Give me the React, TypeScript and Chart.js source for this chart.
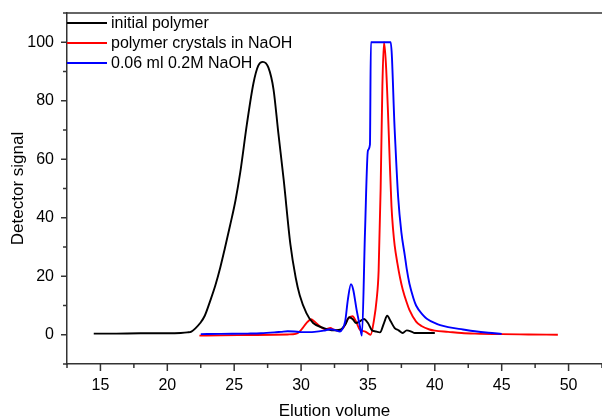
import React, { useEffect, useRef } from "react";
import { Chart, registerables } from "chart.js";

Chart.register(...registerables);

// ---- data ----
const seriesLabels = ["initial polymer", "polymer crystals in NaOH", "0.06 ml 0.2M NaOH"];
const seriesColors = ["#000000", "#ff0000", "#0000ff"];

const initialX = [14.5, 16, 18, 20, 21, 21.5, 21.8, 22.1, 22.46, 22.8, 23.2, 23.6, 23.96, 24.3, 24.7, 25.1, 25.45, 25.95, 26.44, 26.8, 27.14, 27.56, 27.94, 28.3, 28.7, 29.2, 29.6, 29.9, 30.4, 30.9, 31.7, 32.4, 32.9, 33.3, 33.6, 33.85, 34.1, 34.4, 34.7, 35.0, 35.27, 35.6, 35.9, 36.2, 36.44, 36.7, 37.0, 37.3, 37.6, 37.9, 38.25, 38.5, 39.0, 40.0];
const initialY = [0.4, 0.4, 0.5, 0.5, 0.6, 0.8, 1.1, 2.2, 4, 6.5, 11.5, 17, 23, 29.5, 37.5, 46, 55.4, 72, 86, 92, 93.3, 91.3, 83.9, 69, 53, 31, 19.5, 13.5, 7.4, 4, 2.3, 1.5, 1.7, 3.4, 6.0, 5.4, 4, 4.6, 5.4, 4, 1.7, 1.1, 0.8, 4, 6.5, 4.6, 2.3, 1.5, 0.6, 1.5, 1.1, 0.6, 0.6, 0.6];

const crystalsX = [22.4, 24, 26, 28, 29, 29.6, 29.9, 30.1, 30.4, 30.75, 31.0, 31.4, 31.8, 32.2, 32.4, 32.8, 33.15, 33.5, 33.85, 34.1, 34.4, 34.8, 35.2, 35.45, 35.65, 35.8, 35.95, 36.08, 36.2, 36.34, 36.5, 36.64, 36.76, 36.88, 37.0, 37.2, 37.4, 37.6, 37.9, 38.1, 38.6, 39.0, 39.6, 40.0, 41, 42, 43, 45, 47, 49.2];
const crystalsY = [-0.3, -0.2, -0.1, 0, 0.1, 0.3, 1.1, 2.2, 4, 5.3, 4.5, 2.9, 1.9, 2.3, 1.8, 1.4, 2.3, 5.4, 6.3, 4.6, 1.7, 1.1, 0, 5, 12, 22, 50, 85, 100, 93, 76, 58, 44, 36, 30.5, 24.5, 19.5, 15.5, 11, 8.5, 4.5, 3, 1.8, 1.4, 1.0, 0.6, 0.4, 0.2, 0.1, 0];

const naohX = [22.5, 24, 26, 27, 28, 28.5, 29, 29.5, 30, 31, 31.7, 32.2, 32.6, 32.9, 33.1, 33.3, 33.5, 33.73, 33.9, 34.15, 34.4, 34.55, 34.78, 35.0, 35.15, 35.22, 36.7, 37.0, 37.26, 37.5, 37.76, 37.9, 38.1, 38.4, 38.6, 39.1, 39.4, 40.1, 40.4, 41, 42.1, 43, 44, 45];
const naohY = [0.2, 0.3, 0.4, 0.5, 0.8, 1.0, 1.2, 1.1, 0.9, 1.0, 1.4, 1.9, 1.5, 1.1, 2.0, 4.6, 12, 17.3, 15.4, 8.6, 2.9, -0.3, 35, 63, 65, 100, 100, 70, 47, 35, 27, 22.5, 17.5, 12.5, 10, 6.8, 5.5, 3.8, 3.3, 2.6, 1.8, 1.2, 0.7, 0.3];

const xTitle = "Elution volume";
const yTitle = "Detector signal";
const xMin = 12.5;
const xMax = 52.5;
const xStep = 2.5;
const xLabelTicks = [15, 20, 25, 30, 35, 40, 45, 50];
const yMin = -10;
const yMax = 110;
const yStep = 10;
const yLabelTicks = [0, 20, 40, 60, 80, 100];

const FONT = "'Liberation Sans', Arial, Helvetica, sans-serif";
const AXIS_COLOR = "#333333";

const toPoints = (xs: number[], ys: number[]) => xs.map((x, i) => ({ x, y: ys[i] }));

const framePlugin = {
  id: "frameTicksLegend",
  afterDraw(chart: any) {
    const { ctx, chartArea: a, scales } = chart;
    ctx.save();
    ctx.strokeStyle = AXIS_COLOR;
    ctx.lineWidth = 1.5;
    // top frame line
    ctx.beginPath();
    ctx.moveTo(a.left, a.top);
    ctx.lineTo(a.right + 2, a.top);
    ctx.stroke();
    // y ticks
    const ys = scales.y;
    ys.ticks.forEach((t: any) => {
      const p = ys.getPixelForValue(t.value);
      const len = yLabelTicks.includes(t.value) ? 6 : 4;
      ctx.beginPath();
      ctx.moveTo(a.left - len, p);
      ctx.lineTo(a.left, p);
      ctx.stroke();
    });
    // x ticks
    const xs = scales.x;
    xs.ticks.forEach((t: any) => {
      const p = xs.getPixelForValue(t.value);
      const len = xLabelTicks.includes(t.value) ? 7 : 4;
      ctx.beginPath();
      ctx.moveTo(p, a.bottom);
      ctx.lineTo(p, a.bottom + len);
      ctx.stroke();
    });
    // legend
    ctx.font = `16px ${FONT}`;
    ctx.textBaseline = "middle";
    ctx.textAlign = "left";
    chart.data.datasets.forEach((ds: any, i: number) => {
      const y = a.top + 10 + i * 20;
      ctx.strokeStyle = ds.borderColor;
      ctx.lineWidth = 2;
      ctx.beginPath();
      ctx.moveTo(a.left, y);
      ctx.lineTo(a.left + 40, y);
      ctx.stroke();
      ctx.fillStyle = "#000";
      ctx.fillText(ds.label, a.left + 44, y + 1);
    });
    ctx.restore();
  },
};

export default function App() {
  const canvasRef = useRef<HTMLCanvasElement | null>(null);

  useEffect(() => {
    if (!canvasRef.current) return;
    Chart.defaults.font.family = FONT;
    Chart.defaults.color = "#000";
    const chart = new Chart(canvasRef.current, {
      type: "line",
      data: {
        datasets: [
          {
            label: seriesLabels[0],
            data: toPoints(initialX, initialY),
            borderColor: seriesColors[0],
            order: 1,
          },
          {
            label: seriesLabels[1],
            data: toPoints(crystalsX, crystalsY),
            borderColor: seriesColors[1],
            order: 2,
          },
          {
            label: seriesLabels[2],
            data: toPoints(naohX, naohY),
            borderColor: seriesColors[2],
            order: 0,
          },
        ].map((d) => ({
          ...d,
          borderWidth: 1.9,
          pointRadius: 0,
          fill: false,
          cubicInterpolationMode: "monotone" as const,
        })),
      },
      options: {
        animation: false,
        responsive: true,
        maintainAspectRatio: false,
        layout: { autoPadding: false, padding: { top: 13, right: 0, bottom: 0, left: 0 } },
        plugins: {
          legend: { display: false },
          tooltip: { enabled: false },
        },
        scales: {
          x: {
            type: "linear",
            min: xMin,
            max: xMax,
            grid: { display: false, drawTicks: true, tickLength: 12 },
            border: { display: true, color: AXIS_COLOR, width: 1.5 },
            ticks: {
              stepSize: xStep,
              autoSkip: false,
              maxRotation: 0,
              padding: 0,
              font: { size: 16 },
              color: "#000",
              callback: (v: any) => (xLabelTicks.includes(Number(v)) ? String(v) : ""),
            },
            title: {
              display: true,
              text: xTitle,
              font: { size: 17 },
              color: "#000",
              padding: { top: 0, bottom: -4 },
            },
            afterFit: (s: any) => {
              s.height = 54;
            },
          },
          y: {
            type: "linear",
            min: yMin,
            max: yMax,
            grid: { display: false, drawTicks: true, tickLength: 13 },
            border: { display: true, color: AXIS_COLOR, width: 1.5 },
            ticks: {
              stepSize: yStep,
              autoSkip: false,
              padding: 0,
              font: { size: 16 },
              color: "#000",
              callback: (v: any) => (yLabelTicks.includes(Number(v)) ? String(v) : ""),
            },
            title: {
              display: true,
              text: yTitle,
              font: { size: 17 },
              color: "#000",
              padding: { top: 8, bottom: 0 },
            },
            afterFit: (s: any) => {
              s.width = 67;
            },
          },
        },
      },
      plugins: [framePlugin],
    });
    return () => chart.destroy();
  }, []);

  return (
    <div style={{ position: "fixed", left: 0, top: 0, width: 602, height: 418, background: "#fff" }}>
      <canvas ref={canvasRef} style={{ display: "block" }} />
    </div>
  );
}
